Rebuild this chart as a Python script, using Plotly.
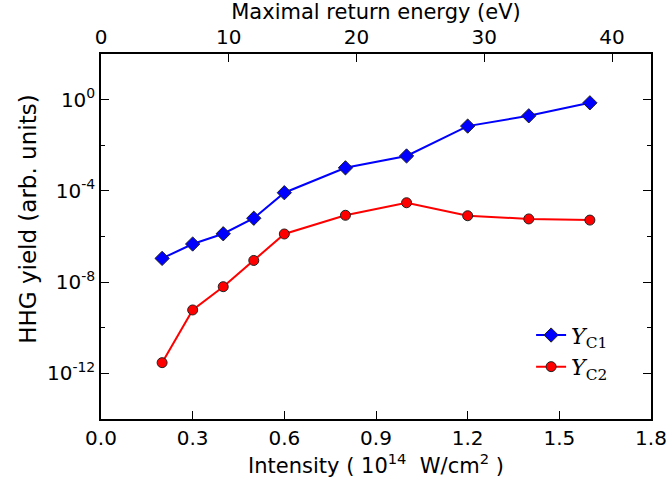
import plotly.graph_objects as go

intensity = [0.2, 0.3, 0.4, 0.5, 0.6, 0.8, 1.0, 1.2, 1.4, 1.6]
log_yc1 = [-6.96, -6.33, -5.88, -5.20, -4.08, -2.99, -2.47, -1.16, -0.71, -0.14]
log_yc2 = [-11.53, -9.22, -8.20, -7.05, -5.89, -5.07, -4.52, -5.09, -5.23, -5.28]
yc1 = [10 ** v for v in log_yc1]
yc2 = [10 ** v for v in log_yc2]

x_ticks = [0.0, 0.3, 0.6, 0.9, 1.2, 1.5, 1.8]
x_ticktext = ["0.0", "0.3", "0.6", "0.9", "1.2", "1.5", "1.8"]
y_ticks = [1e0, 1e-4, 1e-8, 1e-12]
y_ticktext = ["10<sup>0</sup>", "10<sup>-4</sup>", "10<sup>-8</sup>", "10<sup>-12</sup>"]
y_minor = [1e2, 1e-2, 1e-6, 1e-10, 1e-14]
top_ticks = [0, 10, 20, 30, 40]
top_range = [0, 43.05]

FONT = "DejaVu Sans"
SERIF = "DejaVu Serif"

fig = go.Figure()
fig.add_trace(go.Scatter(
    x=intensity, y=yc1, mode="lines+markers",
    name="<i>Y</i><sub>C1</sub>",
    line=dict(color="#0000ff", width=2),
    marker=dict(symbol="diamond", size=11, color="#0000ff",
                line=dict(color="#222222", width=1)),
))
fig.add_trace(go.Scatter(
    x=intensity, y=yc2, mode="lines+markers",
    name="<i>Y</i><sub>C2</sub>",
    line=dict(color="#ff0000", width=2),
    marker=dict(symbol="circle", size=10, color="#ff0000",
                line=dict(color="#222222", width=1)),
))
# invisible trace to activate top axis
fig.add_trace(go.Scatter(x=top_range, y=[1e-20, 1e-20], xaxis="x2",
                         mode="markers", marker=dict(opacity=0),
                         showlegend=False, hoverinfo="skip"))

fig.update_layout(
    width=668, height=484,
    margin=dict(l=101, r=17, t=54, b=65, autoexpand=False),
    paper_bgcolor="white", plot_bgcolor="white",
    font=dict(family=FONT, size=20, color="black"),
    xaxis=dict(
        range=[0, 1.8], tickvals=x_ticks, ticktext=x_ticktext,
        domain=[0, 1], automargin=False,
        ticks="inside", ticklen=8, tickwidth=1, tickcolor="black",
        showline=True, linecolor="black", linewidth=1.5,
        showgrid=False, zeroline=False, mirror=False,
        title=dict(text="Intensity ( 10<sup>14</sup>  W/cm<sup>2</sup> )",
                   font=dict(size=21), standoff=6),
        tickfont=dict(size=20),
    ),
    xaxis2=dict(
        range=top_range, overlaying="x", side="top", automargin=False,
        tickvals=top_ticks,
        ticks="inside", ticklen=8, tickwidth=1, tickcolor="black",
        showline=True, linecolor="black", linewidth=1.5,
        showgrid=False, zeroline=False,
        title=dict(text="Maximal return energy (eV)", font=dict(size=21), standoff=2),
        tickfont=dict(size=20),
    ),
    yaxis=dict(
        type="log", range=[-14, 2], automargin=False,
        tickvals=y_ticks, ticktext=y_ticktext,
        ticks="inside", ticklen=8, tickwidth=1, tickcolor="black",
        minor=dict(tickvals=y_minor, ticks="inside", ticklen=4,
                   tickcolor="black", tickwidth=1),
        showline=True, linecolor="black", linewidth=1.5, mirror="ticks",
        showgrid=False, zeroline=False,
        tickfont=dict(size=20),
    ),
    annotations=[dict(
        text="HHG yield (arb. units)", textangle=-90,
        xref="paper", yref="paper", x=-0.133, y=0.548,
        xanchor="center", yanchor="middle", showarrow=False,
        font=dict(size=23),
    )],
    legend=dict(
        x=0.782, y=0.287, xanchor="left", yanchor="top",
        bgcolor="rgba(0,0,0,0)", borderwidth=0,
        font=dict(family=SERIF, size=22),
    ),
)

fig.write_html("out.html")
